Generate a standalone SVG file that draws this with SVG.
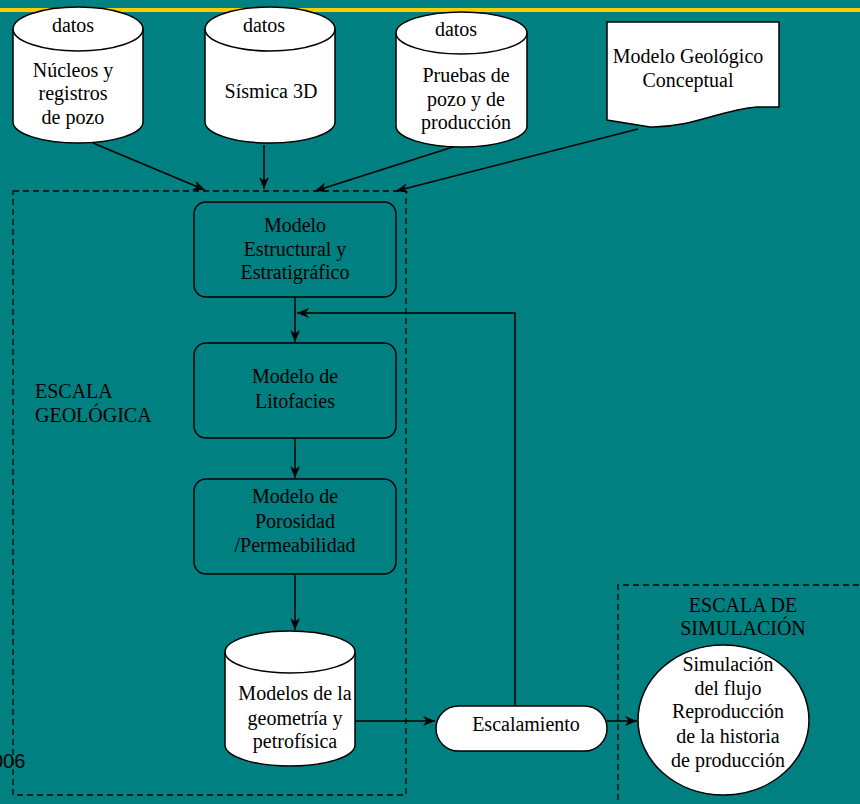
<svg xmlns="http://www.w3.org/2000/svg" width="860" height="804" viewBox="0 0 860 804">
<defs>
<marker id="arr" markerWidth="13" markerHeight="11" refX="12" refY="5" orient="auto" markerUnits="userSpaceOnUse">
<path d="M0,0 L12,5 L0,10 L3.5,5 Z" fill="#000"/>
</marker>
<style>
text{font-family:"Liberation Serif","Times New Roman",serif;font-size:20px;fill:#000;text-anchor:middle}
.shape{fill:#fff;stroke:#000;stroke-width:1.5}
.box{fill:none;stroke:#000;stroke-width:1.5}
.dash{fill:none;stroke:#000;stroke-width:1.3;stroke-dasharray:6,4}
.conn{fill:none;stroke:#000;stroke-width:1.5}
.arr{marker-end:url(#arr)}
</style>
</defs>
<rect width="860" height="804" fill="#008080"/>
<rect x="0" y="8" width="860" height="4" fill="#FFCC00"/>
<text x="-8" y="768" style="font-family:'Liberation Sans',Arial,sans-serif;text-anchor:start">006</text>

<g id="escala-geologica">
<rect class="dash" x="13" y="191" width="393" height="604"/>
<text x="35" y="398" style="text-anchor:start">ESCALA</text>
<text x="35" y="422" style="text-anchor:start">GEOLÓGICA</text>
</g>
<g id="escala-simulacion">
<path class="dash" d="M618,810 V585 H870"/>
<text x="743" y="612">ESCALA DE</text>
<text x="743" y="635">SIMULACIÓN</text>
</g>

<g id="connectors">
<line class="conn arr" x1="93" y1="143" x2="205" y2="190"/>
<line class="conn arr" x1="264" y1="145" x2="264" y2="189"/>
<line class="conn arr" x1="456" y1="146" x2="315" y2="191"/>
<line class="conn arr" x1="638" y1="129" x2="396" y2="191"/>
<line class="conn arr" x1="295" y1="297" x2="295" y2="342"/>
<line class="conn arr" x1="295" y1="438" x2="295" y2="478"/>
<line class="conn arr" x1="295" y1="574" x2="295" y2="630"/>
<line class="conn arr" x1="355" y1="721" x2="435" y2="721"/>
<line class="conn arr" x1="607" y1="721" x2="637" y2="721"/>
<polyline class="conn arr" points="515,706 515,313 297,313"/>
</g>

<g id="nucleos">
<path class="shape" d="M13,29 A65,22 0 0 1 143,29 L143,122 A65,21 0 0 1 13,122 Z"/>
<path class="box" d="M13,29 A65,22 0 0 0 143,29"/>
<text x="73" y="32">datos</text>
<text x="73" y="77">Núcleos y</text>
<text x="73" y="100">registros</text>
<text x="73" y="124">de pozo</text>
</g>
<g id="sismica">
<path class="shape" d="M205,29 A65,22 0 0 1 335,29 L335,122 A65,21 0 0 1 205,122 Z"/>
<path class="box" d="M205,29 A65,22 0 0 0 335,29"/>
<text x="264" y="32">datos</text>
<text x="271" y="98">Sísmica 3D</text>
</g>
<g id="pruebas">
<path class="shape" d="M396,33 A65.5,21 0 0 1 527,33 L527,126 A65.5,21 0 0 1 396,126 Z"/>
<path class="box" d="M396,33 A65.5,21 0 0 0 527,33"/>
<text x="456" y="36">datos</text>
<text x="466" y="82">Pruebas de</text>
<text x="466" y="106">pozo y de</text>
<text x="466" y="129">producción</text>
</g>
<g id="modelo-conceptual">
<path class="shape" d="M607,22 H779 V107 H757 C720,110 690,128 650,127 L607,120 Z"/>
<text x="688" y="63">Modelo Geológico</text>
<text x="688" y="87">Conceptual</text>
</g>
<g id="estructural">
<rect class="box" x="194" y="202" width="202" height="95" rx="12"/>
<text x="295" y="232">Modelo</text>
<text x="295" y="256">Estructural y</text>
<text x="295" y="279">Estratigráfico</text>
</g>
<g id="litofacies">
<rect class="box" x="194" y="343" width="202" height="95" rx="12"/>
<text x="295" y="383">Modelo de</text>
<text x="295" y="408">Litofacies</text>
</g>
<g id="porosidad">
<rect class="box" x="194" y="479" width="202" height="95" rx="12"/>
<text x="295" y="503">Modelo de</text>
<text x="295" y="528">Porosidad</text>
<text x="295" y="552">/Permeabilidad</text>
</g>
<g id="geometria">
<path class="shape" d="M225,652 A65,21 0 0 1 355,652 L355,745 A65,21 0 0 1 225,745 Z"/>
<path class="box" d="M225,652 A65,21 0 0 0 355,652"/>
<text x="295" y="700">Modelos de la</text>
<text x="295" y="725">geometría y</text>
<text x="295" y="748">petrofísica</text>
</g>
<g id="escalamiento">
<rect class="shape" x="436" y="706" width="171" height="45" rx="22.5"/>
<text x="526" y="731">Escalamiento</text>
</g>
<g id="simulacion">
<ellipse class="shape" cx="723.5" cy="720" rx="85.5" ry="75"/>
<text x="728" y="671">Simulación</text>
<text x="728" y="695">del flujo</text>
<text x="728" y="718">Reproducción</text>
<text x="728" y="743">de la historia</text>
<text x="728" y="767">de producción</text>
</g>
</svg>
